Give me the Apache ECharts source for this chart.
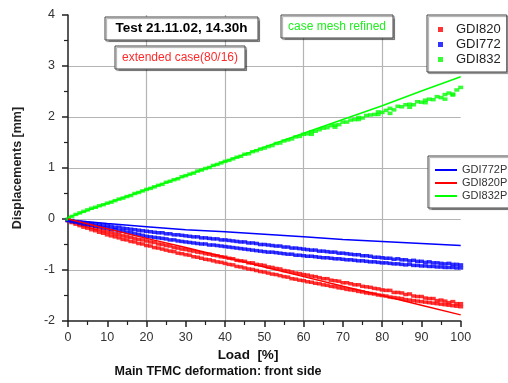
<!DOCTYPE html>
<html>
<head>
<meta charset="utf-8">
<script src="https://cdn.jsdelivr.net/npm/echarts@6/dist/echarts.min.js"></script>
<style>html,body{margin:0;padding:0;background:#fff}#c{width:508px;height:383px}</style>
</head>
<body>
<div id="c"></div>
<script>
// Load steps [%]
var loadPct = [0,1,2,3,4,5,6,7,8,9,10,11,12,13,14,15,16,17,18,19,20,21,22,23,24,25,26,27,28,29,30,31,32,33,34,35,36,37,38,39,40,41,42,43,44,45,46,47,48,49,50,51,52,53,54,55,56,57,58,59,60,61,62,63,64,65,66,67,68,69,70,71,72,73,74,75,76,77,78,79,80,81,82,83,84,85,86,87,88,89,90,91,92,93,94,95,96,97,98,99,100];

// Measured displacements [mm]
var gdi832 = [0.00,0.05,0.09,0.12,0.15,0.18,0.21,0.23,0.26,0.28,0.31,0.33,0.36,0.39,0.41,0.44,0.46,0.50,0.52,0.55,0.58,0.60,0.63,0.66,0.68,0.72,0.74,0.77,0.79,0.83,0.85,0.88,0.90,0.94,0.96,0.99,1.01,1.05,1.07,1.10,1.13,1.15,1.18,1.21,1.23,1.27,1.28,1.32,1.34,1.37,1.39,1.42,1.44,1.48,1.49,1.53,1.55,1.57,1.61,1.62,1.66,1.67,1.71,1.72,1.75,1.78,1.79,1.83,1.84,1.85,1.90,1.90,1.94,1.95,1.99,1.98,2.03,2.04,2.05,2.10,2.09,2.13,2.17,2.14,2.21,2.20,2.24,2.25,2.24,2.30,2.29,2.33,2.35,2.34,2.40,2.38,2.44,2.47,2.45,2.53,2.58];
var gdi832OutX = [62,68,74,79,82,87,91,96,98];
var gdi832OutY = [1.66,1.80,1.95,2.05,2.07,2.19,2.28,2.35,2.43];

var gdi820A = [-0.02,-0.05,-0.07,-0.10,-0.12,-0.14,-0.16,-0.19,-0.20,-0.23,-0.25,-0.26,-0.29,-0.30,-0.33,-0.34,-0.36,-0.38,-0.40,-0.41,-0.43,-0.45,-0.46,-0.49,-0.50,-0.52,-0.53,-0.56,-0.57,-0.59,-0.60,-0.62,-0.63,-0.65,-0.66,-0.68,-0.69,-0.71,-0.72,-0.74,-0.75,-0.77,-0.78,-0.81,-0.82,-0.83,-0.86,-0.86,-0.89,-0.90,-0.91,-0.94,-0.95,-0.97,-0.98,-1.01,-1.02,-1.04,-1.06,-1.07,-1.09,-1.10,-1.12,-1.13,-1.15,-1.17,-1.17,-1.20,-1.21,-1.22,-1.25,-1.25,-1.27,-1.29,-1.29,-1.32,-1.33,-1.34,-1.36,-1.37,-1.39,-1.40,-1.40,-1.44,-1.44,-1.45,-1.48,-1.47,-1.51,-1.52,-1.52,-1.55,-1.56,-1.56,-1.60,-1.59,-1.61,-1.64,-1.62,-1.66,-1.66];
var gdi820B = [-0.03,-0.07,-0.10,-0.13,-0.16,-0.18,-0.21,-0.23,-0.26,-0.28,-0.31,-0.33,-0.35,-0.37,-0.40,-0.41,-0.44,-0.45,-0.48,-0.49,-0.52,-0.53,-0.56,-0.57,-0.59,-0.61,-0.63,-0.64,-0.67,-0.68,-0.70,-0.71,-0.74,-0.75,-0.77,-0.79,-0.80,-0.82,-0.84,-0.85,-0.87,-0.89,-0.90,-0.93,-0.94,-0.96,-0.98,-0.99,-1.01,-1.03,-1.04,-1.06,-1.08,-1.09,-1.11,-1.13,-1.14,-1.17,-1.18,-1.20,-1.21,-1.23,-1.24,-1.26,-1.27,-1.29,-1.30,-1.32,-1.33,-1.35,-1.36,-1.38,-1.39,-1.40,-1.42,-1.43,-1.45,-1.46,-1.47,-1.49,-1.50,-1.51,-1.53,-1.54,-1.55,-1.56,-1.58,-1.59,-1.60,-1.61,-1.62,-1.63,-1.64,-1.65,-1.66,-1.67,-1.68,-1.69,-1.70,-1.71,-1.72];

var gdi772A = [-0.02,-0.03,-0.05,-0.06,-0.07,-0.08,-0.09,-0.10,-0.11,-0.12,-0.13,-0.14,-0.16,-0.16,-0.18,-0.19,-0.20,-0.21,-0.22,-0.23,-0.24,-0.25,-0.26,-0.27,-0.27,-0.29,-0.29,-0.31,-0.31,-0.32,-0.33,-0.34,-0.35,-0.35,-0.37,-0.37,-0.38,-0.39,-0.39,-0.41,-0.41,-0.42,-0.43,-0.44,-0.45,-0.45,-0.47,-0.47,-0.48,-0.50,-0.50,-0.51,-0.52,-0.53,-0.53,-0.55,-0.55,-0.57,-0.57,-0.58,-0.59,-0.60,-0.61,-0.61,-0.63,-0.63,-0.64,-0.65,-0.65,-0.67,-0.67,-0.68,-0.69,-0.70,-0.70,-0.72,-0.72,-0.73,-0.75,-0.75,-0.76,-0.77,-0.77,-0.79,-0.78,-0.80,-0.80,-0.82,-0.81,-0.83,-0.83,-0.85,-0.84,-0.86,-0.86,-0.87,-0.88,-0.87,-0.89,-0.89,-0.90];
var gdi772B = [-0.03,-0.05,-0.06,-0.08,-0.10,-0.11,-0.12,-0.14,-0.15,-0.17,-0.18,-0.20,-0.21,-0.23,-0.24,-0.26,-0.27,-0.29,-0.30,-0.32,-0.34,-0.35,-0.36,-0.37,-0.38,-0.39,-0.41,-0.41,-0.43,-0.44,-0.45,-0.46,-0.47,-0.48,-0.49,-0.49,-0.51,-0.51,-0.52,-0.53,-0.54,-0.55,-0.56,-0.57,-0.58,-0.59,-0.60,-0.61,-0.62,-0.63,-0.64,-0.65,-0.65,-0.66,-0.67,-0.68,-0.69,-0.69,-0.71,-0.71,-0.72,-0.73,-0.73,-0.74,-0.75,-0.76,-0.76,-0.77,-0.78,-0.78,-0.79,-0.80,-0.80,-0.81,-0.82,-0.82,-0.83,-0.84,-0.84,-0.85,-0.86,-0.86,-0.87,-0.88,-0.88,-0.89,-0.90,-0.89,-0.91,-0.91,-0.92,-0.92,-0.93,-0.93,-0.94,-0.94,-0.95,-0.95,-0.95,-0.96,-0.96];

// Predicted (model) curves
var predX = [0,10,20,30,40,50,60,70,80,90,100];
var gdi772P = [-0.02,-0.09,-0.15,-0.21,-0.25,-0.30,-0.35,-0.40,-0.44,-0.48,-0.52];
var gdi820P = [0.00,-0.19,-0.38,-0.56,-0.75,-0.94,-1.13,-1.32,-1.50,-1.69,-1.88];
var gdi832P = [0.03,0.31,0.58,0.85,1.13,1.41,1.68,1.95,2.22,2.51,2.79];

// Axis ticks
var xTicks = {min:0, max:100, step:10, gridStep:20};
var yTicks = {min:-2, max:4, step:1};

function pairs(xs, ys){ return xs.map(function(x,i){ return [x, ys[i]]; }); }

var RED = '#ff0000', BLUE = '#0000ff', GREEN = '#00ff00';
var FONT = '"Liberation Sans", Arial, sans-serif';

var chart = echarts.init(document.getElementById('c'), null, {renderer:'canvas'});

function dots(name, color, data){
  return {name:name, type:'scatter', data:data, symbol:'rect', symbolSize:[5,3.5],
    itemStyle:{color:color}, z:3, silent:true, animation:false};
}
function pline(name, color, data){
  return {name:name, type:'line', data:data, symbol:'none', showSymbol:false,
    lineStyle:{color:color, width:1.5}, itemStyle:{color:color}, z:4, silent:true, animation:false};
}

function textBox(x, y, w, h, txt, color, font){
  return {type:'group', children:[
    {type:'rect', shape:{x:x, y:y, width:w, height:h},
      style:{fill:'#fff', stroke:'#444', lineWidth:1, shadowColor:'rgba(0,0,0,0.35)', shadowOffsetX:1.5, shadowOffsetY:1.5, shadowBlur:1}, z:10},
    {type:'text', x:x + w/2, y:y + h/2, z:11,
      style:{text:txt, fill:color, font:font, align:'center', verticalAlign:'middle'}}
  ]};
}

var option = {
  animation:false,
  backgroundColor:'#fff',
  textStyle:{fontFamily:FONT},
  grid:{left:68, right:47.3, top:15, bottom:62},
  xAxis:[{
    type:'value', min:xTicks.min, max:xTicks.max, interval:xTicks.step,
    axisLine:{show:true, onZero:false, lineStyle:{color:'#222', width:1.5}},
    axisTick:{show:true, inside:false, length:6, lineStyle:{color:'#222', width:1.5}},
    minorTick:{show:true, splitNumber:2, length:4, lineStyle:{color:'#222', width:1.2}},
    axisLabel:{color:'#333', fontSize:12.5, margin:10, fontFamily:FONT},
    splitLine:{show:false}
  },{
    type:'value', min:xTicks.min, max:xTicks.max, interval:xTicks.gridStep, position:'bottom',
    axisLine:{show:false}, axisTick:{show:false}, axisLabel:{show:false},
    splitLine:{show:true, showMinLine:false, showMaxLine:false, lineStyle:{color:'#b4b4b4', width:1.2}}
  }],
  yAxis:{
    type:'value', min:yTicks.min, max:yTicks.max, interval:yTicks.step,
    name:'Displacements [mm]', nameLocation:'middle', nameGap:44,
    nameTextStyle:{fontWeight:'bold', fontSize:12.5, color:'#222', fontFamily:FONT},
    axisLine:{show:true, onZero:false, lineStyle:{color:'#222', width:1.5}},
    axisTick:{show:true, inside:false, length:6, lineStyle:{color:'#222', width:1.5}},
    minorTick:{show:true, splitNumber:2, length:4, lineStyle:{color:'#222', width:1.2}},
    axisLabel:{color:'#333', fontSize:12.5, margin:13, fontFamily:FONT},
    splitLine:{show:true, showMinLine:false, showMaxLine:false, lineStyle:{color:'#b4b4b4', width:1.2}}
  },
  legend:[{
    data:['GDI820','GDI772','GDI832'], orient:'vertical', left:427, top:15,
    icon:'rect', itemWidth:5, itemHeight:5, itemGap:2,
    padding:[8,6,6,11], backgroundColor:'#fff', borderColor:'#444', borderWidth:1,
    shadowColor:'rgba(0,0,0,0.35)', shadowOffsetX:1.5, shadowOffsetY:1.5, shadowBlur:1,
    selectedMode:false,
    textStyle:{fontSize:13, color:'#222', lineHeight:13, padding:[0,0,0,8], fontFamily:FONT}
  },{
    data:['GDI772P','GDI820P','GDI832P'], orient:'vertical', left:428, top:156,
    itemWidth:22, itemHeight:10, itemGap:1,
    itemStyle:{opacity:0},
    padding:[8,2,6,6], backgroundColor:'#fff', borderColor:'#444', borderWidth:1,
    shadowColor:'rgba(0,0,0,0.35)', shadowOffsetX:1.5, shadowOffsetY:1.5, shadowBlur:1,
    selectedMode:false,
    textStyle:{fontSize:11, color:'#333', lineHeight:12, fontFamily:FONT}
  }],
  graphic:[
    textBox(105, 17, 153, 23, 'Test 21.11.02, 14.30h', '#000', 'bold 13.5px ' + FONT),
    textBox(115, 46, 130, 23, 'extended case(80/16)', '#ff2a2a', '12px ' + FONT),
    textBox(281, 15, 112, 23, 'case mesh refined', '#22ee22', '12px ' + FONT),
    {type:'text', x:248, y:355, style:{text:'Load  [%]', fill:'#111', font:'bold 13.5px ' + FONT, align:'center', verticalAlign:'middle'}},
    {type:'text', x:218, y:372, style:{text:'Main TFMC deformation: front side', fill:'#111', font:'bold 12.5px ' + FONT, align:'center', verticalAlign:'middle'}}
  ],
  series:[
    dots('GDI820', RED, pairs(loadPct, gdi820A)),
    dots('GDI820', RED, pairs(loadPct, gdi820B)),
    dots('GDI772', BLUE, pairs(loadPct, gdi772A)),
    dots('GDI772', BLUE, pairs(loadPct, gdi772B)),
    dots('GDI832', GREEN, pairs(loadPct, gdi832)),
    dots('GDI832', GREEN, pairs(gdi832OutX, gdi832OutY)),
    pline('GDI772P', BLUE, pairs(predX, gdi772P)),
    pline('GDI820P', RED, pairs(predX, gdi820P)),
    pline('GDI832P', GREEN, pairs(predX, gdi832P))
  ]
};
chart.setOption(option);
</script>
</body>
</html>
